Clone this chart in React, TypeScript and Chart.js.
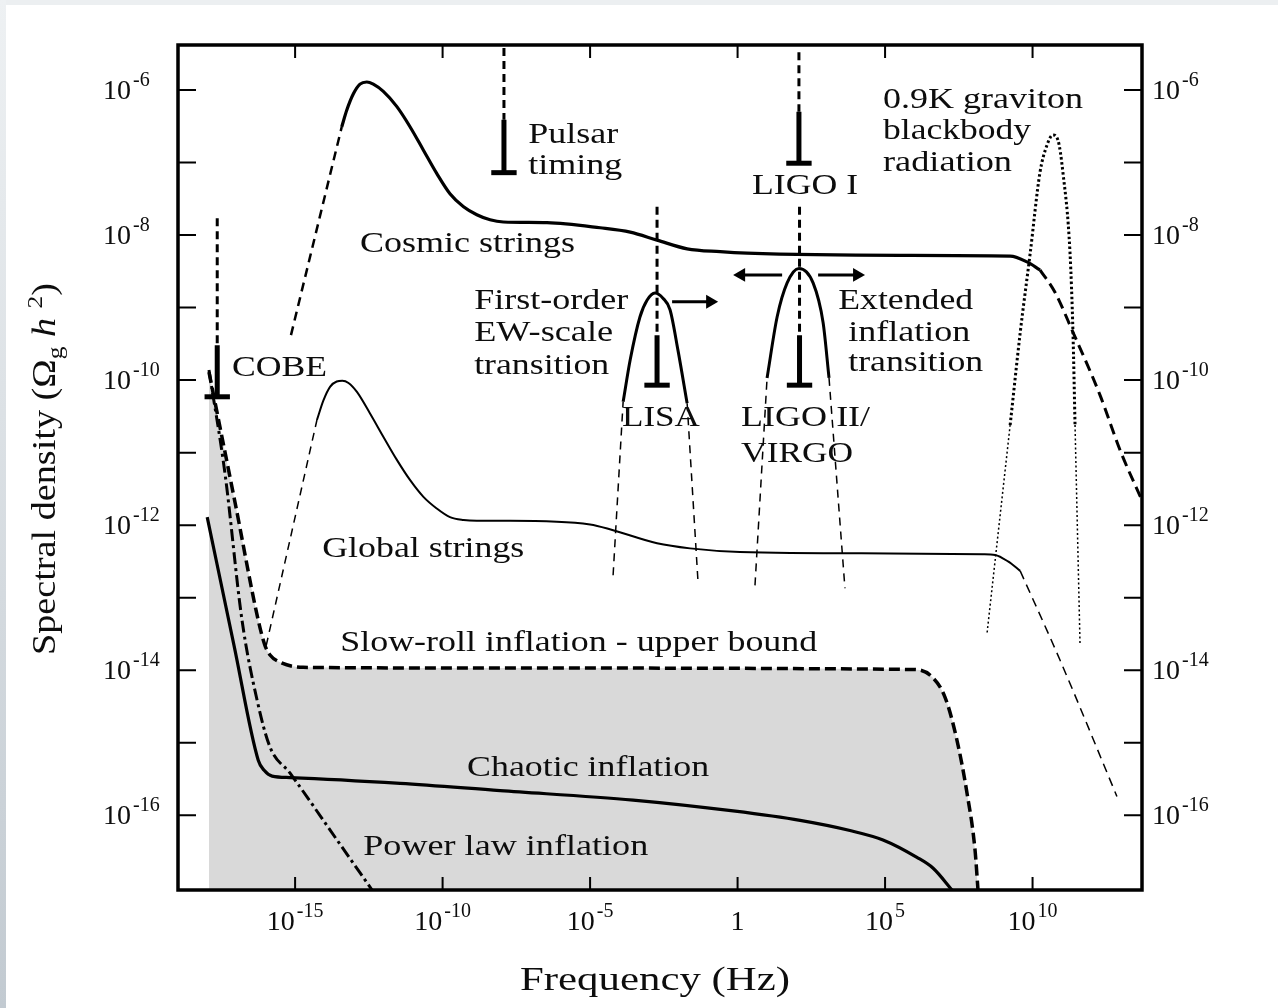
import { useEffect, useRef } from 'react';
import { Chart, registerables } from 'chart.js';

Chart.register(...registerables);

const FONT = '"Liberation Serif", "Times New Roman", Times, serif';
const INK = '#0d0d0d';

// ---- axis extents (log10 units) ----
const xRange = [-18.97, 13.71];
const yRange = [-17.03, -5.38];
const xTickExponents = [-15, -10, -5, 0, 5, 10];
const yTickExponents = [-6, -7, -8, -9, -10, -11, -12, -13, -14, -15, -16];
const yLabelExponents = [-6, -8, -10, -12, -14, -16];

// ---- curves: log10(frequency / Hz) and log10(Omega_g h^2) ----
const cosmicLeftDashX = [-15.14, -13.42];
const cosmicLeftDashY = [-9.38, -6.51];
const cosmicX = [-13.42, -13.25, -13.02, -12.80, -12.57, -12.35, -12.01, -11.55, -11.10, -10.65, -10.20, -9.75, -9.29, -8.84, -8.39, -7.94, -6.46, -4.66, -3.64, -2.73, -1.71, -0.59, 0.32, 5.51, 9.24, 9.81, 10.25];
const cosmicY = [-6.51, -6.28, -6.05, -5.92, -5.89, -5.92, -6.02, -6.23, -6.51, -6.83, -7.15, -7.43, -7.61, -7.72, -7.79, -7.82, -7.83, -7.90, -7.96, -8.07, -8.19, -8.23, -8.25, -8.28, -8.29, -8.37, -8.48];
const cosmicRightDashX = [10.25, 10.76, 11.37, 12.29, 12.97, 13.71];
const cosmicRightDashY = [-8.48, -8.79, -9.34, -10.21, -10.97, -11.66];

const globalLeftDashX = [-15.98, -14.26];
const globalLeftDashY = [-13.66, -10.55];
const globalX = [-14.26, -14.04, -13.81, -13.59, -13.40, -13.19, -12.91, -12.46, -12.01, -11.55, -11.10, -10.65, -10.20, -9.75, -9.29, -8.84, -7.71, -5.0, -4.22, -2.73, -1.61, 0.08, 5.17, 8.32, 8.73, 9.17, 9.58];
const globalY = [-10.55, -10.28, -10.09, -10.02, -10.01, -10.04, -10.16, -10.46, -10.78, -11.10, -11.38, -11.61, -11.77, -11.89, -11.93, -11.94, -11.94, -11.99, -12.07, -12.25, -12.32, -12.37, -12.39, -12.40, -12.41, -12.50, -12.63];
const globalRightDashX = [9.58, 10.93, 12.86];
const globalRightDashY = [-12.63, -13.86, -15.74];

const slowRollX = [-17.92, -17.03, -16.25, -16.02, -15.85, -15.51, -14.73, -8.05, 5.95, 6.53, 7.03, 7.44, 7.78, 8.05, 8.15];
const slowRollY = [-9.89, -11.70, -13.31, -13.66, -13.79, -13.89, -13.96, -13.97, -13.99, -14.07, -14.37, -14.97, -15.70, -16.48, -17.03];

const chaoticX = [-17.98, -17.07, -16.25, -16.05, -15.78, -15.17, -11.44, -8.05, -3.54, -0.15, 2.12, 3.81, 4.93, 6.08, 6.63, 7.27];
const chaoticY = [-11.89, -13.66, -15.24, -15.38, -15.46, -15.48, -15.56, -15.66, -15.79, -15.94, -16.07, -16.21, -16.34, -16.58, -16.73, -17.03];

const powerLawX = [-17.92, -17.37, -16.80, -16.29, -15.85, -15.17, -13.58, -12.39];
const powerLawY = [-9.86, -11.31, -13.31, -14.41, -15.06, -15.42, -16.34, -17.03];

const blackbodyX = [9.24, 9.58, 9.92, 10.25, 10.49, 10.69, 10.86, 11.03, 11.27, 11.37, 11.44];
const blackbodyY = [-10.62, -9.35, -8.25, -7.14, -6.76, -6.62, -6.69, -7.14, -8.25, -9.35, -10.62];
const blackbodyTailLX = [8.46, 9.24];
const blackbodyTailLY = [-13.48, -10.62];
const blackbodyTailRX = [11.44, 11.61];
const blackbodyTailRY = [-10.62, -13.66];

const ewArchX = [-3.88, -3.64, -3.31, -3.07, -2.80, -2.53, -2.29, -2.02, -1.71];
const ewArchY = [-10.30, -9.72, -9.13, -8.90, -8.80, -8.87, -9.03, -9.59, -10.32];
const ewTailLX = [-4.22, -3.88];
const ewTailLY = [-12.69, -10.30];
const ewTailRX = [-1.71, -1.34];
const ewTailRY = [-10.32, -12.79];

const extArchX = [1.0, 1.34, 1.68, 2.08, 2.56, 2.90, 3.10];
const extArchY = [-9.97, -9.13, -8.66, -8.46, -8.66, -9.21, -9.97];
const extTailLX = [0.59, 1.0];
const extTailLY = [-12.83, -9.97];
const extTailRX = [3.10, 3.64];
const extTailRY = [-9.97, -12.87];

// ---- detector sensitivities ----
const detectorNames = ['Pulsar timing', 'LIGO I', 'COBE', 'LISA', 'LIGO II/VIRGO'];
const detectorFreq = [-7.92, 2.08, -17.64, -2.73, 2.10];
const detectorDashTop = [-5.42, -5.48, -7.77, -7.61, -7.61];
const detectorSolidTop = [-6.41, -6.30, -9.52, -9.38, -9.38];
const detectorBound = [-7.14, -7.01, -10.23, -10.07, -10.07];
const BAR_HALF = 0.43;

// ---- arrows (transition directions) ----
const arrowY = [-8.92, -8.55, -8.55];
const arrowFrom = [-2.22, 1.51, 2.73];
const arrowTo = [-0.93, 0.12, 4.05];

// ---- text annotations ----
const labelTexts = ['Pulsar', 'timing', 'LIGO I', '0.9K graviton', 'blackbody', 'radiation', 'Cosmic strings', 'First-order', 'EW-scale', 'transition', 'Extended', 'inflation', 'transition', 'COBE', 'LISA', 'LIGO II/', 'VIRGO', 'Global strings', 'Slow-roll inflation - upper bound', 'Chaotic inflation', 'Power law inflation'];
const labelX = [-7.10, -7.10, 0.49, 4.93, 4.93, 4.93, -12.8, -8.93, -8.93, -8.93, 3.41, 3.75, 3.75, -17.14, -3.92, 0.12, 0.12, -14.08, -13.47, -9.17, -12.69];
const labelY = [-6.62, -7.05, -7.32, -6.14, -6.57, -7.01, -8.12, -8.91, -9.35, -9.81, -8.91, -9.35, -9.77, -9.83, -10.52, -10.52, -11.02, -12.33, -13.63, -15.35, -16.44];
const labelWidth = [90, 94, 106, 200, 148, 129, 215, 154, 139, 135, 135, 122, 135, 95, 78, 129, 112, 202, 477, 242, 285];

const pts = (xs: number[], ys: number[]) => xs.map((x, i) => ({ x, y: ys[i] }));

function curve(data: any[], width: number, dash: number[] = [], extra: any = {}) {
  return {
    data,
    borderColor: '#000',
    borderWidth: width,
    borderDash: dash,
    pointRadius: 0,
    cubicInterpolationMode: 'monotone',
    fill: false,
    ...extra,
  };
}
function straight(data: any[], width: number, dash: number[] = [], extra: any = {}) {
  return curve(data, width, dash, { cubicInterpolationMode: 'default', tension: 0, ...extra });
}

function fitText(ctx: CanvasRenderingContext2D, text: string, px: number, py: number, size: number, width: number) {
  ctx.font = `${size}px ${FONT}`;
  const m = ctx.measureText(text).width;
  ctx.save();
  ctx.translate(px, py);
  ctx.scale(width / m, 1);
  ctx.textBaseline = 'middle';
  ctx.textAlign = 'left';
  ctx.fillText(text, 0, 0);
  ctx.restore();
}

function drawPow(ctx: CanvasRenderingContext2D, exp: number, x: number, baseY: number, align: 'left' | 'center') {
  const base = exp === 0 ? '1' : '10';
  const sup = exp === 0 ? '' : String(exp);
  ctx.textBaseline = 'alphabetic';
  ctx.textAlign = 'left';
  ctx.font = `28px ${FONT}`;
  const wb = ctx.measureText(base).width;
  ctx.font = `20px ${FONT}`;
  const ws = sup ? ctx.measureText(sup).width + 2 : 0;
  const total = wb + ws;
  const sx = align === 'center' ? x - total / 2 : x;
  ctx.font = `28px ${FONT}`;
  ctx.fillText(base, sx, baseY);
  if (sup) {
    ctx.font = `20px ${FONT}`;
    ctx.fillText(sup, sx + wb + 2, baseY - 13);
  }
}

const decorations = {
  id: 'decorations',
  afterDraw(chart: any) {
    const { ctx, chartArea: a, scales } = chart;
    const xs = scales.x;
    const ys = scales.y;
    ctx.save();
    ctx.strokeStyle = '#000';
    ctx.fillStyle = INK;
    // ticks
    ctx.lineWidth = 2;
    ctx.beginPath();
    xTickExponents.forEach((e) => {
      const px = xs.getPixelForValue(e);
      ctx.moveTo(px, a.bottom);
      ctx.lineTo(px, a.bottom - 13);
      ctx.moveTo(px, a.top);
      ctx.lineTo(px, a.top + 13);
    });
    yTickExponents.forEach((e) => {
      const py = ys.getPixelForValue(e);
      ctx.moveTo(a.left, py);
      ctx.lineTo(a.left + 18, py);
      ctx.moveTo(a.right, py);
      ctx.lineTo(a.right - 18, py);
    });
    ctx.stroke();
    // frame
    ctx.lineWidth = 3.5;
    ctx.strokeRect(a.left, a.top, a.right - a.left, a.bottom - a.top);
    // tick labels
    xTickExponents.forEach((e) => drawPow(ctx, e, xs.getPixelForValue(e), a.bottom + 40, 'center'));
    yLabelExponents.forEach((e) => {
      const py = ys.getPixelForValue(e);
      drawPow(ctx, e, 103, py + 9, 'left');
      drawPow(ctx, e, a.right + 10, py + 9, 'left');
    });
    // annotations
    labelTexts.forEach((t, i) => {
      fitText(ctx, t, xs.getPixelForValue(labelX[i]), ys.getPixelForValue(labelY[i]), 30, labelWidth[i]);
    });
    // x title
    fitText(ctx, 'Frequency (Hz)', 520, 981, 33, 270);
    // y title
    const pieces = [
      { t: 'Spectral density (', f: `33px ${FONT}`, dy: 0 },
      { t: 'Ω', f: `33px ${FONT}`, dy: 0 },
      { t: 'g', f: `22px ${FONT}`, dy: 7 },
      { t: ' ', f: `33px ${FONT}`, dy: 0 },
      { t: 'h', f: `italic 33px ${FONT}`, dy: 0 },
      { t: ' ', f: `33px ${FONT}`, dy: 0 },
      { t: '2', f: `22px ${FONT}`, dy: -13 },
      { t: ')', f: `33px ${FONT}`, dy: 0 },
    ];
    let total = 0;
    const widths = pieces.map((p) => {
      ctx.font = p.f;
      const w = ctx.measureText(p.t).width;
      total += w;
      return w;
    });
    ctx.save();
    ctx.translate(44, 469);
    ctx.rotate(-Math.PI / 2);
    ctx.scale(372 / total, 1);
    ctx.textBaseline = 'alphabetic';
    let cx = -total / 2;
    pieces.forEach((p, i) => {
      ctx.font = p.f;
      ctx.fillText(p.t, cx, 11 + p.dy);
      cx += widths[i];
    });
    ctx.restore();
    ctx.restore();
  },
};

export default function App() {
  const ref = useRef<HTMLCanvasElement>(null);
  useEffect(() => {
    if (!ref.current) return;
    const datasets: any[] = [
      curve(pts(slowRollX, slowRollY), 3.5, [11, 5], { fill: 'start', backgroundColor: '#d9d9d9', order: 10 }),
      curve(pts(chaoticX, chaoticY), 3.2),
      curve(pts(powerLawX, powerLawY), 3, [12, 4, 3, 4]),
      straight(pts(cosmicLeftDashX, cosmicLeftDashY), 2.5, [9, 6]),
      curve(pts(cosmicX, cosmicY), 3.2),
      curve(pts(cosmicRightDashX, cosmicRightDashY), 3, [11, 6]),
      straight(pts(globalLeftDashX, globalLeftDashY), 1.5, [8, 6]),
      curve(pts(globalX, globalY), 2),
      curve(pts(globalRightDashX, globalRightDashY), 1.5, [9, 6]),
      curve(pts(blackbodyX, blackbodyY), 3, [2.5, 2.5]),
      straight(pts(blackbodyTailLX, blackbodyTailLY), 1.5, [2, 2.5]),
      straight(pts(blackbodyTailRX, blackbodyTailRY), 1.5, [2, 2.5]),
      curve(pts(ewArchX, ewArchY), 3),
      straight(pts(ewTailLX, ewTailLY), 1.5, [8, 6]),
      straight(pts(ewTailRX, ewTailRY), 1.5, [8, 6]),
      curve(pts(extArchX, extArchY), 3),
      straight(pts(extTailLX, extTailLY), 1.5, [8, 6]),
      straight(pts(extTailRX, extTailRY), 1.5, [8, 6]),
    ];
    detectorNames.forEach((name, i) => {
      const f = detectorFreq[i];
      datasets.push(straight([{ x: f, y: detectorDashTop[i] }, { x: f, y: detectorSolidTop[i] }], 3, [8, 5], { label: name + ' (limit)' }));
      datasets.push(straight([{ x: f, y: detectorSolidTop[i] }, { x: f, y: detectorBound[i] }], 5, [], { label: name }));
      datasets.push(straight([{ x: f - BAR_HALF, y: detectorBound[i] }, { x: f + BAR_HALF, y: detectorBound[i] }], 5, [], { label: name + ' bar' }));
    });
    arrowY.forEach((y, i) => {
      const dir = arrowTo[i] > arrowFrom[i] ? 90 : -90;
      datasets.push(
        straight([{ x: arrowFrom[i], y }, { x: arrowTo[i], y }], 3, [], {
          pointRadius: [0, 8],
          pointStyle: 'triangle',
          pointRotation: dir,
          pointBackgroundColor: '#000',
          pointBorderColor: '#000',
          pointBorderWidth: 0,
        })
      );
    });

    const chart = new Chart(ref.current, {
      type: 'line',
      data: { datasets },
      options: {
        responsive: false,
        animation: false,
        devicePixelRatio: 1,
        layout: { padding: { left: 178, top: 45, right: 136, bottom: 118 } },
        scales: {
          x: { type: 'linear', min: xRange[0], max: xRange[1], display: false },
          y: { type: 'linear', min: yRange[0], max: yRange[1], display: false },
        },
        plugins: {
          legend: { display: false },
          tooltip: { enabled: false },
          filler: { drawTime: 'beforeDatasetsDraw' },
        } as any,
        elements: { line: { borderCapStyle: 'butt' } },
      } as any,
      plugins: [decorations],
    });
    return () => chart.destroy();
  }, []);

  return (
    <div style={{ position: 'fixed', left: 0, top: 0, width: 1278, height: 1008, background: '#fff' }}>
      <div style={{ position: 'absolute', left: 0, top: 0, width: 1278, height: 5, background: '#eceff1' }} />
      <div style={{ position: 'absolute', left: 0, top: 0, width: 6, height: 1008, background: 'linear-gradient(#eef1f3, #c2cad1)' }} />
      <canvas ref={ref} width={1278} height={1008} style={{ position: 'absolute', left: 0, top: 0, display: 'block' }} />
    </div>
  );
}
